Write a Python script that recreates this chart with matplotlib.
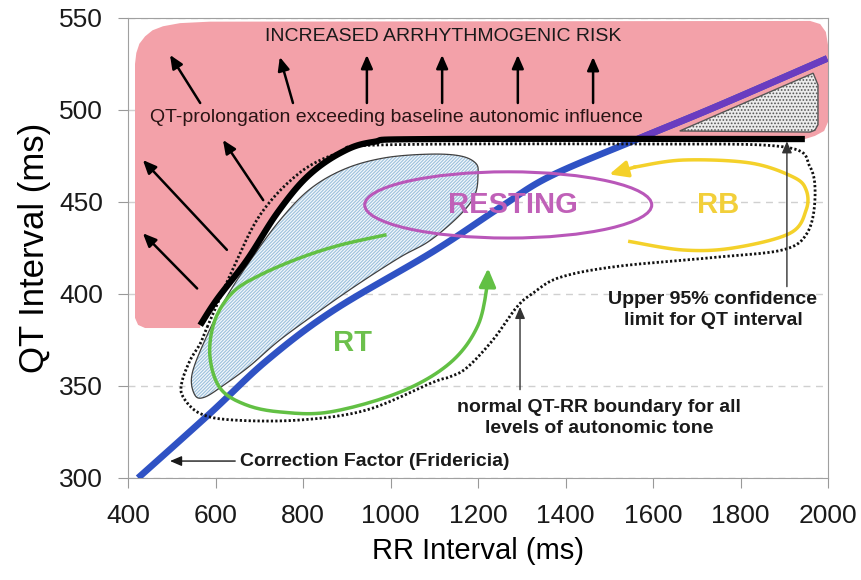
import matplotlib
matplotlib.use('Agg')

import numpy as np
from matplotlib import pyplot as plt
from matplotlib.patches import Polygon, Ellipse

plt.rcParams['font.family'] = ['Liberation Sans', 'DejaVu Sans']
plt.rcParams['hatch.linewidth'] = 0.8

# ---------------- data (RR ms, QT ms) ----------------
xTicks = [400, 600, 800, 1000, 1200, 1400, 1600, 1800, 2000]
yTicks = [300, 350, 400, 450, 500, 550]

# Fridericia correction curve
fridRR = [423, 587, 718, 869, 1097, 1250, 1365, 1563, 1746, 1998]
fridQT = [300, 335, 364, 391, 423, 447, 464, 484, 502, 528]

# upper 95% confidence limit (thick black)
upperRR = [565, 603, 672, 741, 809, 885, 960, 1097, 1947]
upperQT = [383, 397, 418.5, 444, 463.6, 476.6, 482.6, 484.2, 484.2]

# increased-risk region outline (the rest of it runs along the black line)
riskRR = [565, 439, 423, 416, 416, 419, 426, 439, 456, 480, 519, 587, 1959, 1982, 1995, 2000, 2000, 1991, 1970]
riskQT = [381.5, 381.5, 383.2, 387, 525, 531, 536, 540, 543.3, 545.5, 547.2, 548, 548.4, 546.7, 542.4, 535.3,
          493.5, 488.6, 485.9]

# stippled triangle
stipRR = [1661, 1966, 1977, 1977, 1970, 1959]
stipQT = [488.6, 520, 513.6, 492, 489, 488]

# hatched (resting data cloud)
cloudRR = [553, 546, 576, 622, 679, 747, 816, 896, 987, 1090, 1160, 1195, 1200, 1193, 1159,
           1090, 1022, 930, 839, 747, 679, 622, 576]
cloudQT = [345, 356, 375, 397, 418, 440, 457, 468, 474, 476, 475, 471, 465, 454, 443,
           429, 420, 406, 391, 375, 361, 351, 344]

# normal QT-RR boundary (dotted)
normRR = [581, 633, 702, 793, 885, 976, 1570, 1897, 1959, 1970, 1952, 1897, 1746, 1518, 1387,
          1326, 1289, 1234, 1175, 1136, 1097, 946, 793, 640, 565, 526, 523, 542, 565]
normQT = [382, 410, 443, 466, 477, 481, 481.5, 480, 469, 451, 433, 424, 420, 415, 409,
          400.5, 393, 375, 360, 355, 352, 337, 331.5, 331.5, 335, 344, 352, 364, 373]

# RT loop (green)
rtRR = [987, 885, 793, 702, 640, 599, 587, 610, 667, 747, 862, 1022, 1136, 1200, 1223]
rtQT = [432, 426.6, 419.6, 410.3, 401, 386, 366.8, 349, 340, 335.9, 335.9, 346.7, 362.5, 383, 407.6]

# RB loop (yellow)
rbRR = [1547, 1669, 1783, 1913, 1950, 1950, 1920, 1822, 1669, 1559]
rbQT = [428.5, 423.9, 425, 433, 445.7, 456.5, 463.6, 471.2, 472.8, 469]

# risk arrows: tail RR, tail QT, tip RR, tip QT
arrowTailRR = [565, 777, 946, 1118, 1291, 1463, 709, 626, 558]
arrowTailQT = [503.8, 503.8, 503.8, 503.8, 503.8, 503.8, 451, 424, 403]
arrowTipRR = [496, 747, 946, 1118, 1291, 1463, 617, 434, 434]
arrowTipQT = [529.9, 528.8, 529.9, 529.9, 529.9, 528.8, 483.7, 472.8, 433]


def smooth(xs, ys, closed=False, n=12):
	#catmull-rom through the outline points so the shapes are round
	pts = np.column_stack([xs, ys]).astype(float)
	if closed:
		pts = np.vstack([pts[-1], pts, pts[0], pts[1]])
	else:
		pts = np.vstack([pts[0], pts, pts[-1]])
	out = []
	for i in range(1, len(pts) - 2):
		p0, p1, p2, p3 = pts[i - 1], pts[i], pts[i + 1], pts[i + 2]
		for t in np.linspace(0, 1, n, endpoint=False):
			out.append(0.5 * ((2 * p1) + (-p0 + p2) * t + (2 * p0 - 5 * p1 + 4 * p2 - p3) * t ** 2
						+ (-p0 + 3 * p1 - 3 * p2 + p3) * t ** 3))
	out.append(pts[-2])
	out = np.array(out)
	return out[:, 0], out[:, 1]


def arrow(x0, y0, x1, y1, color, lw, hl=0.8, hw=0.35):
	ax.annotate('', xy=(x1, y1), xytext=(x0, y0),
				arrowprops=dict(arrowstyle='-|>,head_length=%s,head_width=%s' % (hl, hw), color=color, lw=lw,
								shrinkA=0, shrinkB=0), zorder=6)


f, ax = plt.subplots(figsize=(8.62, 5.80), dpi=100)
f.subplots_adjust(left=0.1485, right=0.9606, bottom=0.1759, top=0.969)

ax.set_xlim(400, 2000)
ax.set_ylim(300, 550)
ax.set_xticks(xTicks)
ax.set_yticks(yTicks)
ax.tick_params(direction='out', length=7, color='#999999', labelsize=19, colors='#999999', labelcolor='#1a1a1a')
ax.tick_params(axis='x', pad=12)
ax.tick_params(axis='y', pad=11)
ax.yaxis.grid(True, linestyle=(0, (5, 4)), color='#d0d0d0', linewidth=1)
ax.set_axisbelow(True)
for s in ax.spines.values():
	s.set_color('#a0a0a0')
ax.set_xlabel('RR Interval (ms)', fontsize=21, labelpad=6)
ax.set_ylabel('QT Interval (ms)', fontsize=25, labelpad=6)

# risk region: outline + black line reversed
ux, uy = smooth(upperRR, upperQT)
px = np.concatenate([riskRR, ux[::-1]])
py = np.concatenate([riskQT, uy[::-1]])
pink = Polygon(np.column_stack([px, py]), closed=True, facecolor='#f3a1a9', edgecolor='none', zorder=1)
ax.add_patch(pink)

ax.add_patch(Polygon(np.column_stack([stipRR, stipQT]), closed=True, facecolor='#ececec', edgecolor='#555555',
					 hatch='.....', linewidth=1, zorder=2))

cx, cy = smooth(cloudRR, cloudQT, closed=True)
ax.add_patch(Polygon(np.column_stack([cx, cy]), closed=True, facecolor='#f2f7fb', edgecolor='#9cc0dc',
					 hatch='/' * 10, linewidth=0, zorder=2))
ax.add_patch(Polygon(np.column_stack([cx, cy]), closed=True, facecolor='none', edgecolor='#404040',
					 linewidth=0.9, zorder=2.5))

# Fridericia line, purple where it runs over the pink region
fx, fy = smooth(fridRR, fridQT)
ax.plot(fx, fy, color='#2f52c4', linewidth=4.8, solid_capstyle='butt', zorder=3)
purple, = ax.plot(fx, fy, color='#6a3cc0', linewidth=4.8, solid_capstyle='butt', zorder=3.1)
purple.set_clip_path(pink)

nx, ny = smooth(normRR, normQT, closed=True)
ax.plot(nx, ny, color='#111111', linewidth=2, linestyle=(0, (0.8, 0.8)), zorder=4)

ax.plot(ux, uy, color='black', linewidth=4.5, solid_capstyle='butt', zorder=5)

# RESTING ellipse
ax.add_patch(Ellipse((1269, 448.4), 656, 36, facecolor='none', edgecolor='#b957b9', linewidth=2.2, zorder=6))
ax.text(1280, 448.4, 'RESTING', color='#c060b8', fontsize=21, fontweight='bold', ha='center', va='center', zorder=7)

# RT loop
gx, gy = smooth(rtRR, rtQT)
ax.plot(gx, gy, color='#62c044', linewidth=2.5, zorder=6)
arrow(gx[-2], gy[-2], 1223, 414, '#62c044', 2.5, hl=1.1, hw=0.5)
ax.text(914, 373.4, 'RT', color='#6cc04c', fontsize=21, fontweight='bold', ha='center', va='center', zorder=7)

# RB loop
yx, yy = smooth(rbRR, rbQT)
ax.plot(yx, yy, color='#f4d12a', linewidth=2.5, zorder=6)
arrow(yx[-1], yy[-1], 1500, 465, '#f4d12a', 2.5, hl=1.1, hw=0.5)
ax.text(1749, 448.4, 'RB', color='#f2cf3a', fontsize=21, fontweight='bold', ha='center', va='center', zorder=7)

# arrows in the risk region
for i in range(len(arrowTailRR)):
	arrow(arrowTailRR[i], arrowTailQT[i], arrowTipRR[i], arrowTipQT[i], 'black', 1.8)

ax.text(1120, 539.7, 'INCREASED ARRHYTHMOGENIC RISK', fontsize=14, color='#1a1a1a', ha='center', va='center', zorder=7)
ax.text(1013, 495.7, 'QT-prolongation exceeding baseline autonomic influence', fontsize=14, color='#2a1414',
		ha='center', va='center', zorder=7)

# annotations
arrow(1906, 404, 1906, 483, '#333333', 1, hl=0.7, hw=0.3)
ax.text(1737, 391.3, 'Upper 95% confidence\nlimit for QT interval', fontsize=14, fontweight='bold', color='#1a1a1a',
		ha='center', va='center', linespacing=1.25, zorder=7)

arrow(1296, 348, 1296, 393, '#333333', 1, hl=0.7, hw=0.3)
ax.text(1477, 332.6, 'normal QT-RR boundary for all\nlevels of autonomic tone', fontsize=14, fontweight='bold',
		color='#1a1a1a', ha='center', va='center', linespacing=1.25, zorder=7)

arrow(645, 309.2, 496, 309.2, '#1a1a1a', 1, hl=0.7, hw=0.3)
ax.text(656, 309.2, 'Correction Factor (Fridericia)', fontsize=14, fontweight='bold', color='#1a1a1a',
		ha='left', va='center', zorder=7)

plt.savefig('out.png', dpi=100)
